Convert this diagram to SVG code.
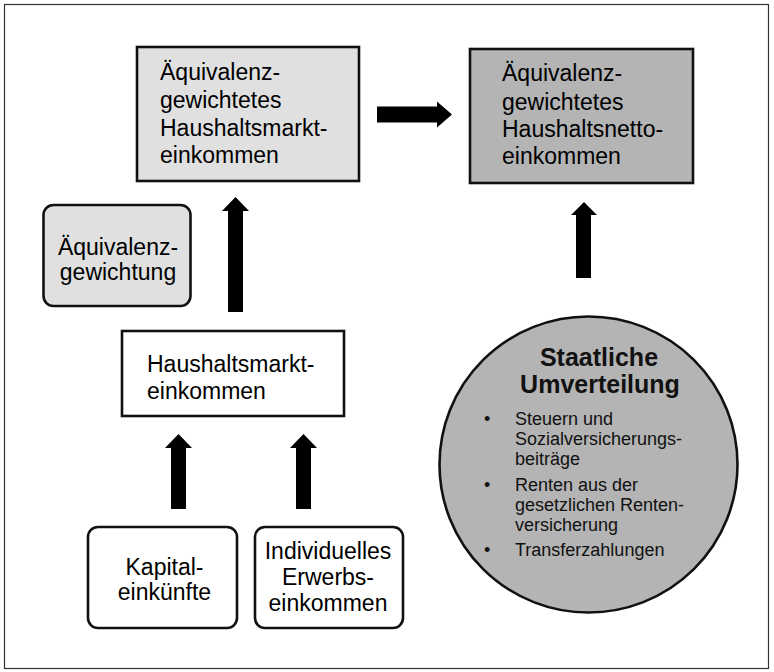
<svg xmlns="http://www.w3.org/2000/svg" width="774" height="672" viewBox="0 0 774 672">
<style>
.t{font-family:"Liberation Sans",Arial,sans-serif;font-size:23px;fill:#000}
.s{font-family:"Liberation Sans",Arial,sans-serif;font-size:18px;fill:#111}
.b{font-family:"Liberation Sans",Arial,sans-serif;font-size:25px;font-weight:bold;fill:#111}
.box{stroke:#111;stroke-width:2.6}
.arr{fill:#000}
</style>
<rect x="4.5" y="4.5" width="764" height="664" fill="#fff" stroke="#333" stroke-width="1.2"/>
<g id="aeq-markt">
<rect class="box" x="137" y="47" width="222" height="134" fill="#e0e0e0"/>
<text class="t"><tspan x="160" y="80">Äquivalenz-</tspan><tspan x="160" y="108">gewichtetes</tspan><tspan x="160" y="136">Haushaltsmarkt-</tspan><tspan x="160" y="163">einkommen</tspan></text>
</g>
<g id="aeq-netto">
<rect class="box" x="470" y="49" width="223" height="134" fill="#b4b4b4"/>
<text class="t"><tspan x="502" y="81">Äquivalenz-</tspan><tspan x="502" y="110">gewichtetes</tspan><tspan x="502" y="137">Haushaltsnetto-</tspan><tspan x="502" y="164">einkommen</tspan></text>
</g>
<g id="aeq-gewichtung">
<rect class="box" x="43.5" y="205" width="147" height="101" rx="10" fill="#e0e0e0"/>
<text class="t" text-anchor="middle"><tspan x="118" y="255">Äquivalenz-</tspan><tspan x="118" y="280">gewichtung</tspan></text>
</g>
<g id="markt">
<rect class="box" x="122" y="331" width="222" height="85" fill="#fff"/>
<text class="t"><tspan x="147" y="372">Haushaltsmarkt-</tspan><tspan x="147" y="399">einkommen</tspan></text>
</g>
<g id="kapital">
<rect class="box" x="88" y="527" width="149" height="101" rx="10" fill="#fff"/>
<text class="t" text-anchor="middle"><tspan x="164.5" y="575">Kapital-</tspan><tspan x="164.5" y="600">einkünfte</tspan></text>
</g>
<g id="erwerb">
<rect class="box" x="255" y="527" width="148" height="101" rx="10" fill="#fff"/>
<text class="t" text-anchor="middle"><tspan x="328" y="559">Individuelles</tspan><tspan x="328" y="585">Erwerbs-</tspan><tspan x="328" y="611">einkommen</tspan></text>
</g>
<g id="umverteilung">
<ellipse class="box" cx="588.5" cy="464.5" rx="149" ry="148" fill="#b4b4b4"/>
<text class="b" text-anchor="middle"><tspan x="599" y="366">Staatliche</tspan><tspan x="600" y="393">Umverteilung</tspan></text>
<text class="s"><tspan x="484" y="425">•</tspan><tspan x="484" y="491">•</tspan><tspan x="484" y="556">•</tspan></text>
<text class="s"><tspan x="515" y="425">Steuern und</tspan><tspan x="515" y="445">Sozialversicherungs-</tspan><tspan x="515" y="465">beiträge</tspan><tspan x="515" y="491">Renten aus der</tspan><tspan x="515" y="511">gesetzlichen Renten-</tspan><tspan x="515" y="531">versicherung</tspan><tspan x="515" y="556">Transferzahlungen</tspan></text>
</g>
<g id="connectors">
<polygon class="arr" points="377,106.5 437,106.5 437,101.5 452,114.5 437,127.5 437,122.5 377,122.5"/>
<polygon class="arr" points="228,312 228,211 222,211 235.5,197 249,211 243,211 243,312"/>
<polygon class="arr" points="576,278 576,215 571,215 584,202 597,215 591,215 591,278"/>
<polygon class="arr" points="171,509 171,448 165,448 178.5,434 192,448 186,448 186,509"/>
<polygon class="arr" points="296,509 296,448 290,448 303.5,434 317,448 311,448 311,509"/>
</g>
</svg>
